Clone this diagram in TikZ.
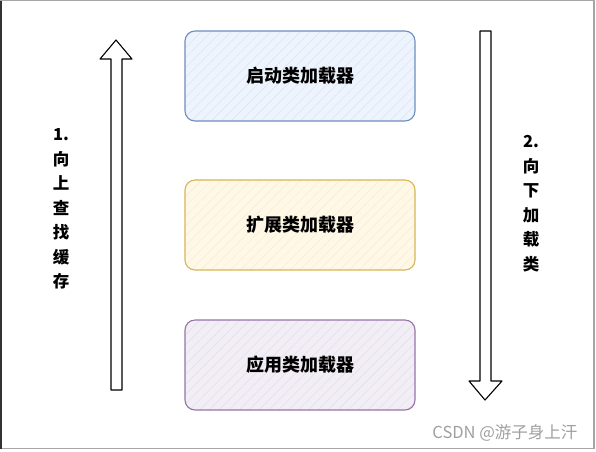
\documentclass[tikz,border=0pt]{standalone}
\usepackage{fontspec}
\setmainfont{Noto Sans CJK SC}
\usetikzlibrary{patterns.meta}

\definecolor{bootline}{HTML}{6C8EBF}
\definecolor{bootfill}{HTML}{EEF4FD}
\definecolor{extline}{HTML}{D6B656}
\definecolor{extfill}{HTML}{FFF8E6}
\definecolor{appline}{HTML}{9673A6}
\definecolor{appfill}{HTML}{F2EEF5}

\begin{document}
\begin{tikzpicture}[x=1pt,y=-1pt,
    loader/.style={draw=#1line, line width=1.1pt, rounded corners=10pt,
      minimum width=230pt, minimum height=90pt,
      preaction={fill=#1fill},
      pattern={Lines[angle=45,distance=7pt,line width=0.5pt]},
      pattern color=#1line!25,
      font=\fontsize{18}{21}\selectfont\bfseries},
    blockarrow/.style={draw=black, line width=1.1pt, fill=white, line join=round},
    sidetext/.style={align=center, font=\fontsize{16.5}{24.5}\selectfont\bfseries}
  ]
  \useasboundingbox (0,0) rectangle (596,451);
  % frame of the picture
  \draw[gray!70, line width=1.2pt] (0.8,0.8) rectangle (594,448.5);
  \draw[gray!40!black, line width=1.6pt] (0.8,0.8) -- (0.8,448.5);

  % the three loaders
  \node[loader=boot] (boot) at (300,76) {启动类加载器};
  \node[loader=ext]  (ext)  at (300,225) {扩展类加载器};
  \node[loader=app]  (app)  at (300,365) {应用类加载器};

  % up arrow (left)
  \coordinate (uptip) at (116,40);
  \draw[blockarrow] (111,390) -- (111,59) -- (100,59) -- (uptip)
    -- (132,59) -- (122,59) -- (122,390) -- cycle;
  % down arrow (right)
  \coordinate (downtip) at (485,400);
  \draw[blockarrow] (480,31) -- (480,381) -- (469,381) -- (downtip)
    -- (502,381) -- (491,381) -- (491,31) -- cycle;

  % labels of the arrows
  \node[sidetext, anchor=north] (upnote) at (61,125)
    {1.\\向\\上\\查\\找\\缓\\存};
  \node[sidetext, anchor=north] (downnote) at (531,132)
    {2.\\向\\下\\加\\载\\类};

  % watermark
  \node[anchor=east, text=gray!75, font=\fontsize{16.5}{19}\selectfont] (mark)
    at (581,433) {CSDN @游子身上汗};
\end{tikzpicture}
\end{document}
